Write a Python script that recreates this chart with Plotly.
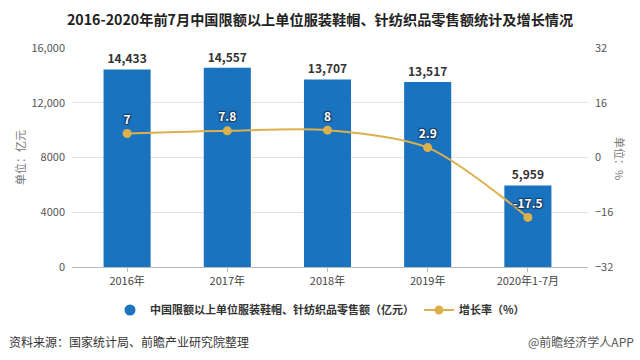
import plotly.graph_objects as go

categories = ["2016年", "2017年", "2018年", "2019年", "2020年1-7月"]
sales = [14433, 14557, 13707, 13517, 5959]
growth = [7, 7.8, 8, 2.9, -17.5]
sales_labels = ["14,433", "14,557", "13,707", "13,517", "5,959"]
growth_labels = ["7", "7.8", "8", "2.9", "-17.5"]

W, H = 640, 360
FONT = "Noto Sans CJK SC"
BLUE = "#1A73BE"
GOLD = "#DDB04E"

fig = go.Figure()
fig.add_trace(go.Bar(
    x=categories, y=sales, name="中国限额以上单位服装鞋帽、针纺织品零售额（亿元）",
    marker=dict(color=BLUE, line=dict(width=0)), width=0.47,
    text=sales_labels, textposition="outside", cliponaxis=False,
    textfont=dict(family=FONT, size=12, color="#333333", weight="bold"),
    yaxis="y", showlegend=False,
))
# legend entry for the bars with a round symbol, as in the reference
fig.add_trace(go.Scatter(
    x=[None], y=[None], mode="markers", name="中国限额以上单位服装鞋帽、针纺织品零售额（亿元）",
    marker=dict(color=BLUE, size=11, symbol="circle"), yaxis="y",
))
fig.add_trace(go.Scatter(
    x=categories, y=growth, name="增长率（%）", yaxis="y2",
    mode="lines+markers+text", line=dict(color=GOLD, width=2, shape="spline", smoothing=0.8),
    marker=dict(color=GOLD, size=9, symbol="circle"),
    text=growth_labels, textposition="top center", cliponaxis=False,
    textfont=dict(family=FONT, size=12, color="#FFFFFF", weight="bold",
                  shadow="1px 1px 1px #1a3d66, -1px -1px 1px #1a3d66, 1px -1px 1px #1a3d66, -1px 1px 1px #1a3d66"),
))

x0, x1 = 72 / W, 588 / W
y0, y1 = 1 - 267 / H, 1 - 48 / H

fig.update_layout(
    width=W, height=H, autosize=False,
    margin=dict(l=0, r=0, t=0, b=0, pad=0, autoexpand=False),
    paper_bgcolor="white", plot_bgcolor="white",
    font=dict(family=FONT, size=11, color="#555555"),
    showlegend=True,
    legend=dict(orientation="h", x=0.5, xanchor="center", y=1 - 310 / H, yanchor="middle",
                font=dict(family=FONT, size=11, color="#333333", weight="bold"),
                itemwidth=30, bgcolor="rgba(0,0,0,0)", traceorder="normal"),
    xaxis=dict(domain=[x0, x1], range=[-0.55, 4.6], showgrid=False,
               showline=True, linecolor="#BBBBBB", linewidth=1,
               ticks="outside", ticklen=4, tickcolor="#BBBBBB",
               tickfont=dict(size=11, color="#444444")),
    yaxis=dict(domain=[y0, y1], range=[0, 16000], tickvals=[0, 4000, 8000, 12000, 16000],
               ticktext=["0", "4000", "8000", "12,000", "16,000"],
               showgrid=True, gridcolor="#E3E3E3", zeroline=False,
               tickfont=dict(size=11, color="#555555"), ticklabelstandoff=6),
    yaxis2=dict(overlaying="y", side="right", range=[-32, 32], tickvals=[-32, -16, 0, 16, 32],
                showgrid=False, zeroline=False,
                tickfont=dict(size=11, color="#555555"), ticklabelstandoff=6),
)

def note(text, x, y, xanchor="center", angle=0, size=11, color="#333333", weight="normal"):
    fig.add_annotation(text=text, xref="paper", yref="paper", x=x / W, y=1 - y / H,
                       xanchor=xanchor, yanchor="middle", textangle=angle, showarrow=False,
                       font=dict(family=FONT, size=size, color=color, weight=weight))

note("2016-2020年前7月中国限额以上单位服装鞋帽、针纺织品零售额统计及增长情况", 320, 19,
     size=14.2, color="#222222", weight="bold")
note("单位：亿元", 20, 158, angle=-90, color="#777777")
note("单位：%", 620, 158, angle=90, color="#777777")
note("资料来源：国家统计局、前瞻产业研究院整理", 7, 341, xanchor="left", size=12)
note("@前瞻经济学人APP", 636, 341, xanchor="right", size=12, color="#555555")

fig.write_html("out.html", config={"displayModeBar": False},
               post_script="document.body.style.margin='0px';")
